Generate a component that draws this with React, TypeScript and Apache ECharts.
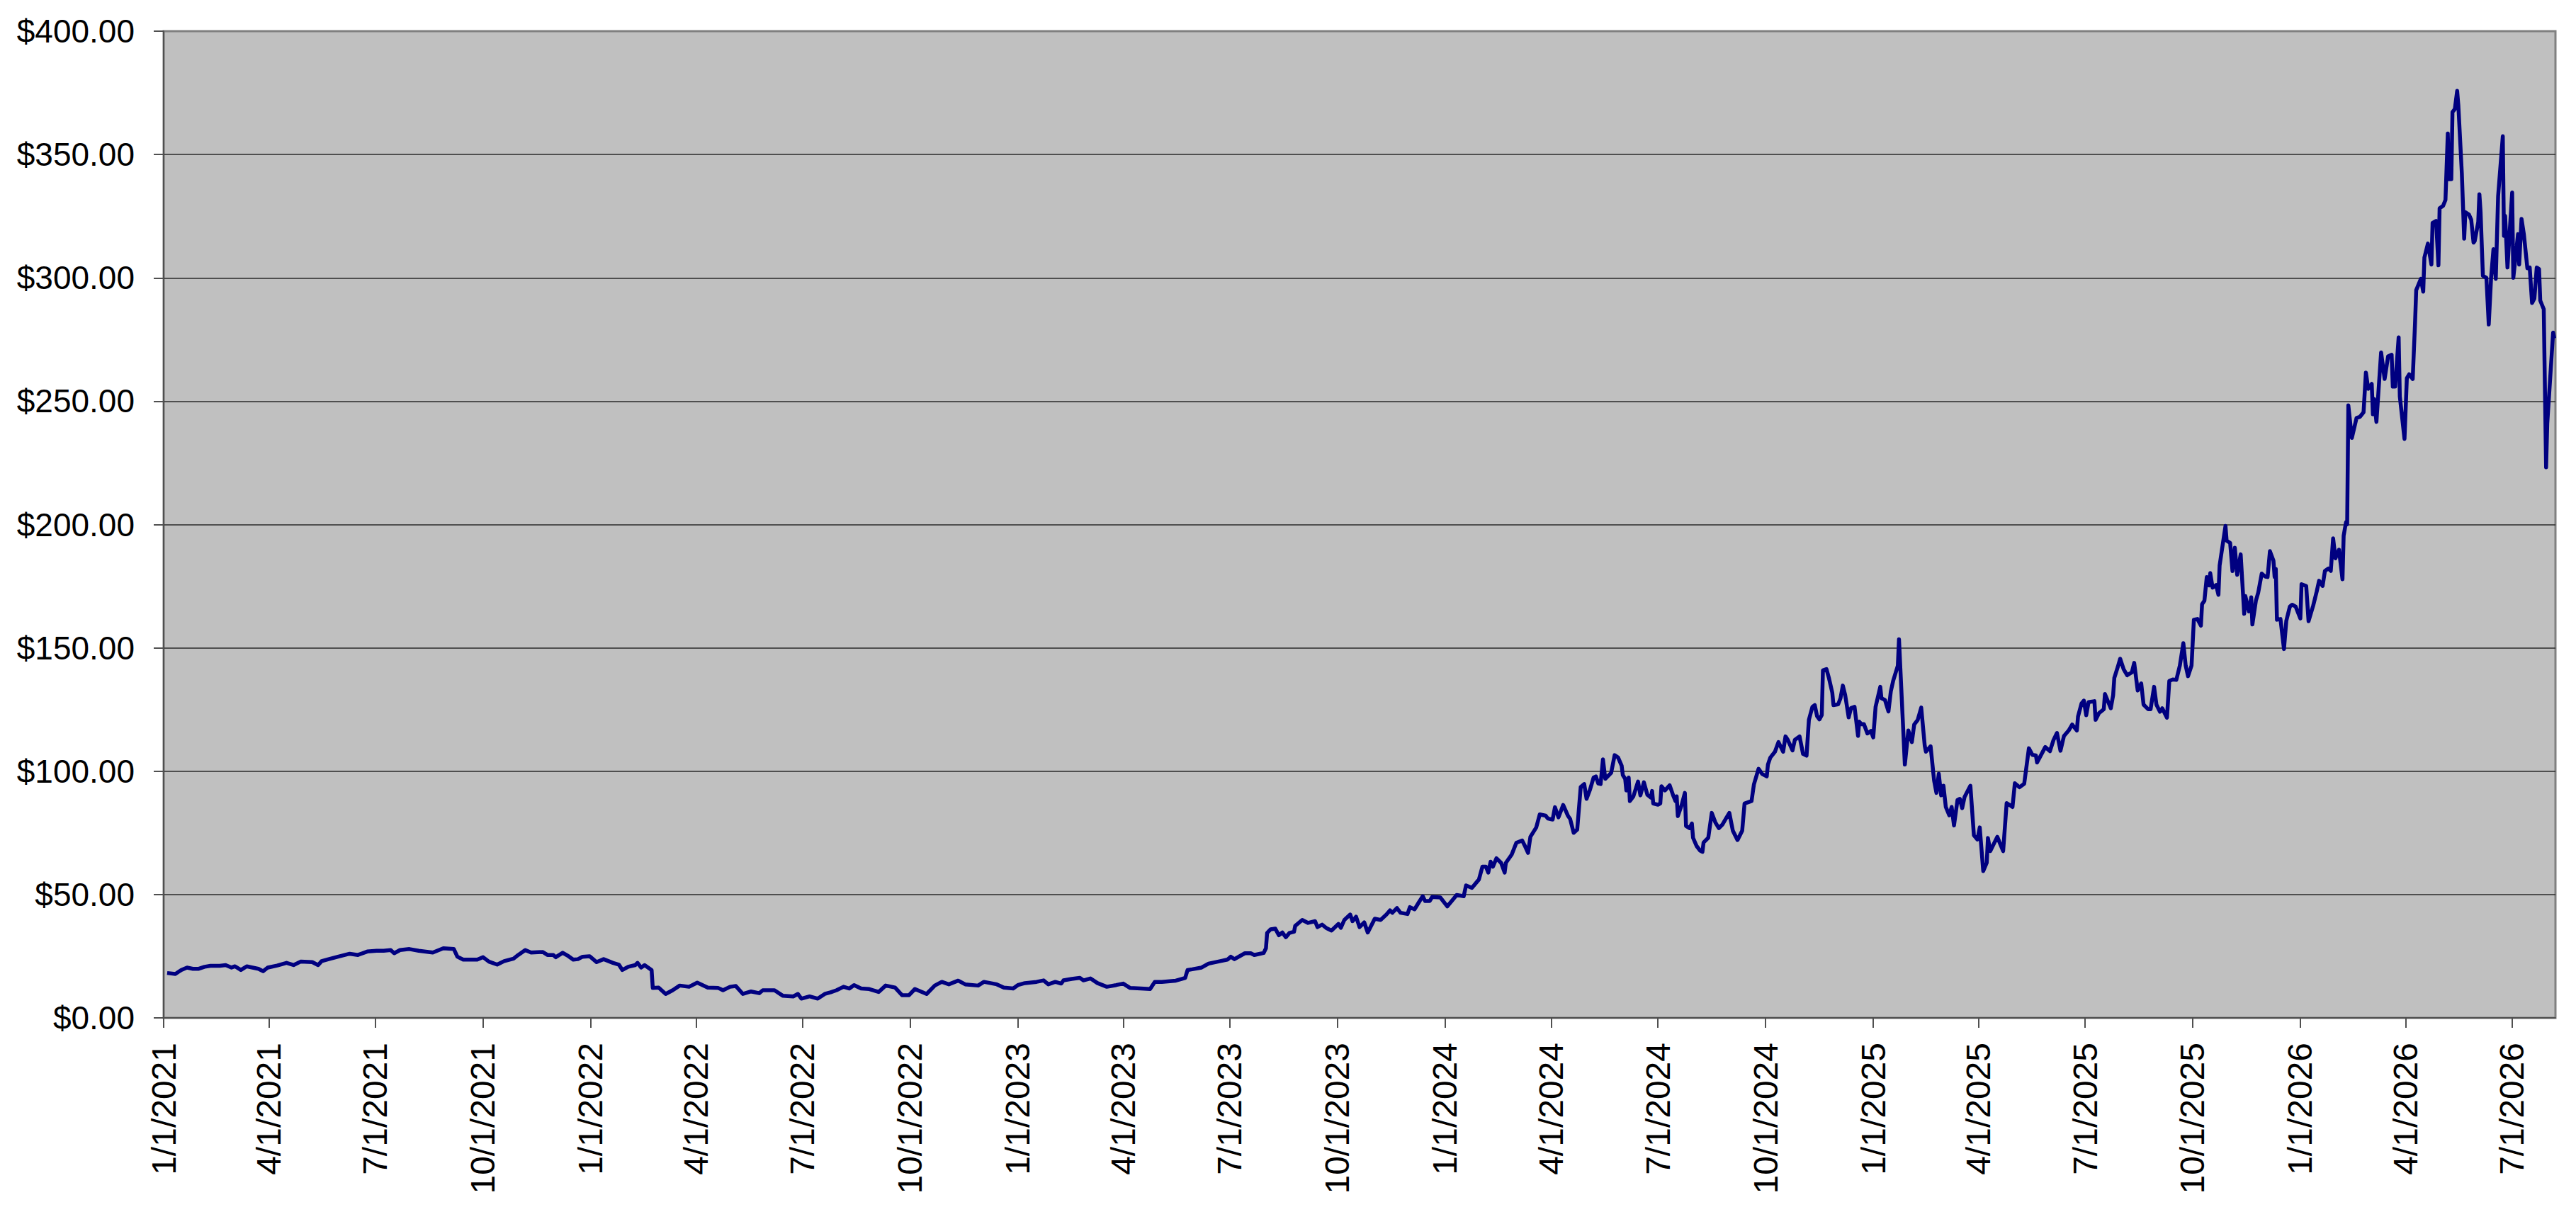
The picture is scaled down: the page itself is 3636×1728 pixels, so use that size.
import React, { useEffect, useRef } from "react";
import * as echarts from "echarts";

// Days counted from 1/1/2021, and the closing price on that day
const START = Date.UTC(2021, 0, 1);
const DAY = 86400000;

const days2021 = [3, 10, 15, 20, 25, 30, 35, 40, 48, 53, 58, 61, 66, 71, 76, 81, 85, 89, 97, 105, 111, 117, 127, 132, 135, 141, 149, 159, 166, 174, 182, 188, 194, 197, 202, 210, 218, 230, 239, 248, 251, 256, 268, 273, 278, 285, 291, 299, 303, 309, 314, 324, 328, 333, 335, 341, 346, 350, 354, 358, 364];
const prices2021 = [18.2, 17.8, 19.4, 20.4, 19.9, 19.9, 20.7, 21.1, 21.1, 21.4, 20.4, 20.9, 19.4, 20.9, 20.4, 19.9, 18.9, 20.4, 21.2, 22.3, 21.4, 22.8, 22.6, 21.4, 23.0, 23.8, 24.8, 26.0, 25.5, 26.9, 27.2, 27.2, 27.5, 26.2, 27.5, 27.9, 27.2, 26.5, 28.2, 27.9, 24.8, 23.6, 23.6, 24.6, 22.8, 21.6, 23.0, 24.0, 25.5, 27.5, 26.5, 26.7, 25.5, 25.5, 24.6, 26.4, 25.0, 23.6, 23.8, 24.8, 25.0];

const days2022 = [370, 376, 384, 389, 392, 397, 403, 405, 408, 411, 417, 418, 423, 429, 435, 441, 449, 456, 465, 474, 478, 484, 489, 495, 502, 509, 512, 522, 529, 538, 542, 545, 552, 559, 565, 570, 575, 581, 586, 590, 596, 603, 611, 617, 625, 631, 637, 642, 647, 652, 659, 665, 671, 679, 685, 696, 701, 712, 718, 726];
const prices2022 = [22.6, 23.8, 22.3, 21.6, 19.4, 20.7, 21.4, 22.3, 20.4, 21.4, 19.4, 12.1, 12.3, 9.7, 11.2, 13.1, 12.6, 14.3, 12.3, 12.1, 11.2, 12.6, 12.9, 9.7, 10.7, 10.0, 11.2, 11.2, 9.0, 8.7, 9.7, 7.8, 8.7, 7.8, 9.7, 10.4, 11.2, 12.6, 11.9, 13.3, 11.9, 11.7, 10.5, 13.1, 12.3, 9.2, 9.2, 11.7, 10.7, 9.7, 13.1, 14.6, 13.6, 15.1, 13.6, 13.1, 14.6, 13.6, 12.3, 11.9];

const days2023 = [730, 736, 746, 752, 756, 762, 767, 769, 776, 783, 786, 792, 798, 806, 814, 820, 826, 835, 843, 847, 853, 865, 873, 875, 879, 887, 893, 903, 909, 912, 915, 924, 929, 932, 940, 942, 943, 946, 950, 953, 956, 959, 962, 966, 967, 973, 978, 984, 986, 990, 994, 998, 1004, 1006, 1009, 1014, 1016, 1019, 1022, 1026, 1029, 1035, 1040, 1045, 1048, 1050, 1054, 1057, 1063, 1065, 1069, 1073, 1076, 1078, 1082, 1084, 1091];
const prices2023 = [13.3, 14.1, 14.6, 15.2, 13.6, 14.6, 13.9, 15.2, 15.8, 16.2, 15.2, 16.0, 14.1, 12.6, 13.3, 13.9, 12.1, 11.9, 11.7, 14.6, 14.6, 15.1, 16.2, 19.4, 19.7, 20.4, 22.0, 23.0, 23.6, 24.8, 23.8, 26.2, 26.2, 25.5, 26.3, 28.2, 34.4, 35.9, 36.2, 33.5, 34.6, 32.7, 34.4, 34.9, 37.3, 39.7, 38.5, 39.2, 36.8, 37.8, 36.3, 35.4, 38.1, 36.5, 39.7, 41.9, 39.2, 41.0, 36.8, 38.7, 34.6, 40.2, 39.7, 41.9, 43.6, 42.6, 44.5, 42.6, 42.1, 44.9, 44.0, 47.1, 49.3, 47.4, 47.4, 49.0, 48.8];

const days2024 = [1097, 1105, 1111, 1113, 1118, 1124, 1127, 1130, 1132, 1134, 1136, 1139, 1143, 1146, 1147, 1152, 1156, 1161, 1163, 1166, 1168, 1173, 1176, 1181, 1183, 1187, 1189, 1192, 1196, 1200, 1202, 1205, 1208, 1211, 1214, 1216, 1219, 1222, 1224, 1226, 1228, 1230, 1232, 1237, 1240, 1243, 1246, 1247, 1249, 1250, 1252, 1253, 1256, 1260, 1262, 1265, 1268, 1271, 1272, 1273, 1277, 1279, 1280, 1283, 1287, 1290, 1292, 1293, 1294, 1297, 1300, 1301, 1304, 1306, 1307, 1310, 1313, 1315, 1316, 1320, 1323, 1326, 1329, 1332, 1335, 1338, 1341, 1345, 1349, 1351, 1357, 1359, 1363, 1366, 1370, 1371, 1373, 1377, 1380, 1384, 1386, 1388, 1392, 1394, 1398, 1401, 1404, 1406, 1409, 1411, 1413, 1415, 1417, 1418, 1421, 1423, 1426, 1427, 1431, 1433, 1435, 1437, 1440, 1442, 1445, 1448, 1449, 1451, 1453, 1456, 1459];
const prices2024 = [45.2, 49.8, 49.3, 53.7, 52.7, 56.1, 61.3, 61.3, 58.9, 63.3, 61.3, 64.7, 62.8, 58.9, 62.8, 66.2, 71.0, 71.9, 70.0, 66.9, 73.4, 77.2, 82.5, 82.0, 80.8, 80.4, 85.4, 81.3, 86.3, 82.0, 80.6, 75.0, 76.3, 93.6, 94.8, 88.8, 92.6, 97.4, 97.9, 95.0, 94.8, 104.8, 96.9, 99.3, 106.5, 105.5, 102.2, 98.4, 96.9, 92.2, 97.4, 87.9, 89.8, 95.8, 90.2, 95.5, 90.4, 89.3, 92.0, 86.9, 86.4, 86.9, 93.9, 92.2, 94.3, 90.2, 87.9, 89.8, 81.8, 85.9, 91.2, 77.8, 76.9, 78.8, 73.0, 69.7, 67.8, 67.3, 71.1, 73.0, 83.1, 79.3, 76.9, 78.3, 80.7, 83.1, 75.9, 72.1, 75.9, 86.9, 87.9, 94.6, 101.0, 98.9, 97.9, 102.7, 105.5, 107.9, 111.8, 107.9, 114.1, 112.7, 108.4, 112.7, 114.1, 107.0, 106.3, 120.8, 126.1, 126.8, 122.3, 121.0, 122.8, 140.9, 141.4, 138.0, 131.8, 126.8, 127.1, 129.6, 134.7, 130.9, 121.8, 125.6, 126.1, 114.3, 120.1, 119.0, 119.1, 115.3, 116.3];

const days2025 = [1461, 1463, 1467, 1468, 1471, 1474, 1476, 1478, 1482, 1483, 1488, 1491, 1494, 1496, 1499, 1502, 1505, 1506, 1510, 1513, 1515, 1517, 1519, 1521, 1523, 1526, 1528, 1530, 1533, 1535, 1537, 1539, 1544, 1547, 1550, 1552, 1555, 1558, 1559, 1561, 1567, 1572, 1575, 1580, 1582, 1586, 1590, 1594, 1597, 1600, 1601, 1608, 1612, 1615, 1618, 1621, 1624, 1628, 1631, 1635, 1636, 1639, 1641, 1643, 1645, 1650, 1651, 1654, 1658, 1659, 1664, 1666, 1667, 1670, 1672, 1675, 1678, 1682, 1684, 1687, 1690, 1692, 1696, 1698, 1701, 1703, 1706, 1708, 1712, 1714, 1717, 1720, 1723, 1726, 1728, 1730, 1733, 1735, 1738, 1741, 1742, 1744, 1746, 1748, 1749, 1751, 1754, 1756, 1757, 1760, 1762, 1763, 1766, 1768, 1770, 1772, 1775, 1778, 1779, 1782, 1784, 1785, 1788, 1790, 1793, 1796, 1798, 1800, 1803, 1804, 1805, 1806, 1809, 1812, 1814, 1817, 1819, 1822];
const prices2025 = [113.7, 126.1, 134.2, 129.6, 128.9, 124.2, 132.3, 136.6, 142.8, 153.5, 102.7, 116.5, 111.8, 118.9, 120.8, 125.8, 110.3, 107.9, 110.1, 96.2, 91.2, 99.0, 90.2, 94.1, 85.5, 82.1, 85.5, 78.0, 88.3, 88.8, 85.0, 89.5, 94.1, 74.0, 72.3, 77.2, 59.5, 62.9, 72.9, 67.6, 73.4, 67.6, 87.1, 85.5, 95.1, 93.5, 94.9, 109.3, 106.6, 106.4, 103.5, 109.8, 108.1, 112.6, 115.5, 108.3, 114.3, 116.5, 118.9, 116.5, 122.2, 127.5, 128.6, 122.7, 128.0, 128.4, 120.8, 123.6, 125.1, 131.3, 125.5, 130.8, 137.8, 142.3, 145.6, 141.3, 138.9, 140.1, 143.9, 132.7, 135.6, 127.0, 125.1, 125.1, 134.2, 127.0, 124.1, 125.5, 121.7, 136.6, 137.2, 137.0, 142.8, 151.9, 142.8, 138.5, 142.8, 161.4, 161.7, 159.0, 167.7, 169.1, 178.7, 175.3, 180.3, 174.4, 175.5, 171.5, 183.4, 193.0, 199.4, 193.5, 192.5, 181.1, 190.6, 179.6, 187.9, 163.8, 171.0, 164.8, 170.5, 159.5, 169.1, 172.4, 180.1, 178.9, 178.7, 189.2, 185.4, 178.7, 182.0, 161.4, 161.7, 149.5, 161.0, 166.7, 167.5, 166.7];

const days2026 = [1826, 1827, 1831, 1833, 1837, 1840, 1842, 1845, 1847, 1850, 1852, 1854, 1856, 1859, 1862, 1863, 1865, 1866, 1867, 1870, 1874, 1877, 1880, 1882, 1884, 1887, 1888, 1889, 1891, 1895, 1898, 1901, 1904, 1905, 1907, 1910, 1911, 1915, 1917, 1919, 1922, 1924, 1925, 1929, 1931, 1932, 1935, 1938, 1939, 1942, 1944, 1945, 1948, 1950, 1952, 1953, 1955, 1956, 1958, 1960, 1961, 1964, 1966, 1967, 1970, 1972, 1974, 1975, 1978, 1979, 1980, 1982, 1985, 1987, 1989, 1991, 1993, 1995, 1999, 2000, 2001, 2003, 2007, 2008, 2012, 2013, 2015, 2017, 2020, 2022, 2024, 2026, 2028, 2030, 2031, 2034, 2036, 2037, 2042, 2043];
const prices2026 = [161.9, 175.8, 175.1, 160.8, 167.2, 172.9, 177.2, 175.1, 181.2, 182.2, 181.2, 194.4, 186.3, 189.8, 177.8, 195.5, 200.9, 200.1, 248.3, 235.1, 243.2, 243.7, 245.5, 261.6, 255.0, 257.0, 244.7, 250.9, 241.6, 269.8, 259.0, 268.2, 268.8, 255.9, 255.9, 275.9, 251.9, 234.7, 259.3, 260.9, 259.0, 281.6, 295.0, 299.6, 294.4, 308.2, 313.9, 305.4, 322.3, 323.1, 305.1, 328.2, 329.2, 331.6, 358.5, 340.0, 340.0, 367.2, 368.4, 375.8, 370.0, 342.3, 315.9, 326.6, 325.7, 323.6, 314.3, 314.9, 322.6, 333.9, 326.9, 300.8, 300.0, 281.1, 300.0, 311.6, 299.6, 333.1, 357.4, 317.0, 325.1, 304.2, 334.6, 300.0, 317.7, 305.4, 323.9, 317.7, 303.9, 304.2, 289.8, 291.6, 304.2, 303.6, 290.8, 287.3, 223.2, 240.9, 277.8, 275.5];

// Axis ticks
const xTickDates = [
  "2021-01-01", "2021-04-01", "2021-07-01", "2021-10-01",
  "2022-01-01", "2022-04-01", "2022-07-01", "2022-10-01",
  "2023-01-01", "2023-04-01", "2023-07-01", "2023-10-01",
  "2024-01-01", "2024-04-01", "2024-07-01", "2024-10-01",
  "2025-01-01", "2025-04-01", "2025-07-01", "2025-10-01",
  "2026-01-01", "2026-04-01", "2026-07-01",
];
const X_MAX_DATE = "2026-08-07";
const Y_MIN = 0;
const Y_MAX = 400;
const Y_STEP = 50;

const allDays = [...days2021, ...days2022, ...days2023, ...days2024, ...days2025, ...days2026];
const allPrices = [...prices2021, ...prices2022, ...prices2023, ...prices2024, ...prices2025, ...prices2026];

const parseUTC = (s: string) => {
  const [y, m, d] = s.split("-").map(Number);
  return Date.UTC(y, m - 1, d);
};

export default function App() {
  const ref = useRef<HTMLDivElement>(null);

  useEffect(() => {
    document.body.style.margin = "0";
    if (!ref.current) return;
    const chart = echarts.init(ref.current, undefined, { renderer: "svg" });
    const seriesData = allDays.map((d, i) => [START + d * DAY, allPrices[i]]);
    const tickValues = xTickDates.map(parseUTC);
    const font = "'Liberation Sans', Arial, Helvetica, sans-serif";

    chart.setOption({
      animation: false,
      backgroundColor: "#ffffff",
      grid: {
        left: 231,
        right: 29,
        top: 44,
        bottom: 291,
        show: true,
        backgroundColor: "#C0C0C0",
        borderColor: "#808080",
        borderWidth: 3,
      },
      xAxis: {
        type: "value",
        min: START,
        max: parseUTC(X_MAX_DATE),
        axisLine: { show: true, onZero: false, lineStyle: { color: "#505050", width: 2 } },
        axisTick: {
          show: true,
          length: 14,
          lineStyle: { color: "#505050", width: 2 },
          customValues: tickValues,
        },
        axisLabel: {
          show: true,
          rotate: 90,
          margin: 35,
          color: "#000000",
          fontSize: 48,
          fontFamily: font,
          customValues: tickValues,
          formatter: (v: number) => {
            const d = new Date(v);
            return `${d.getUTCMonth() + 1}/${d.getUTCDate()}/${d.getUTCFullYear()}`;
          },
        },
        splitLine: { show: false },
      },
      yAxis: {
        type: "value",
        min: Y_MIN,
        max: Y_MAX,
        interval: Y_STEP,
        axisLine: { show: true, lineStyle: { color: "#505050", width: 2 } },
        axisTick: { show: true, length: 14, lineStyle: { color: "#505050", width: 2 } },
        axisLabel: {
          margin: 41,
          color: "#000000",
          fontSize: 46,
          fontFamily: font,
          formatter: (v: number) => "$" + v.toFixed(2),
        },
        splitLine: {
          show: true,
          showMinLine: false,
          showMaxLine: false,
          lineStyle: { color: "#2a2a2a", width: 1.5 },
        },
      },
      series: [
        {
          type: "line",
          data: seriesData,
          showSymbol: false,
          symbol: "none",
          lineStyle: { color: "#000080", width: 5.5, join: "round" },
          z: 5,
        },
      ],
    });

    return () => chart.dispose();
  }, []);

  return <div ref={ref} style={{ width: 3636, height: 1728 }} />;
}
